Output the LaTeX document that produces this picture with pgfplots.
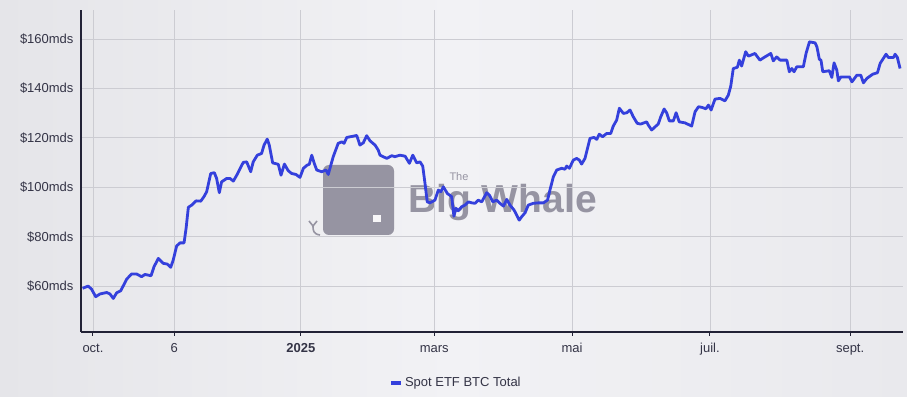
\documentclass[border=0pt]{standalone}
\usepackage{fontspec}
\setmainfont{Liberation Sans}
\usepackage{pgfplots}
\pgfplotsset{compat=1.18}
\definecolor{bgL}{RGB}{229,229,233}
\definecolor{bgM}{RGB}{242,242,245}
\definecolor{bgR}{RGB}{233,233,237}
\definecolor{gridc}{RGB}{204,204,210}
\definecolor{axisc}{RGB}{34,34,54}
\definecolor{labc}{RGB}{52,52,70}
\definecolor{linec}{RGB}{52,64,220}
\definecolor{wm}{RGB}{150,148,162}
\begin{document}
\begin{tikzpicture}
\shade[left color=bgL, right color=bgR, middle color=bgM] (0bp,0bp) rectangle (907bp,397bp);
% watermark
\fill[wm, rounded corners=6bp] (323bp,162bp) rectangle (394bp,232bp);
\fill[white!92!wm] (373bp,175bp) rectangle (381bp,182bp);
\draw[wm, line width=1.6bp] (320bp,162bp) .. controls (313bp,163bp) and (313bp,167bp) .. (313bp,171bp);
\draw[wm, line width=1.6bp] (313bp,171bp) -- (309bp,176bp) (313bp,171bp) -- (317bp,176bp);
\node[wm, anchor=base west, font=\bfseries\fontsize{39bp}{40bp}\selectfont, inner sep=0pt, text height=27bp, text depth=0bp] at (408bp,184bp) {Big Whale};
\node[wm, font=\fontsize{11bp}{12bp}\selectfont, inner sep=0pt, text height=8bp, text depth=0bp, anchor=south] at (459bp,216bp) {The};
\begin{axis}[
  at={(81bp,65bp)}, anchor=south west,
  scale only axis, width=822bp, height=322bp,
  xmin=-5.3, xmax=358.4, ymin=41.4, ymax=171.8,
  axis x line=bottom, axis y line=left,
  axis line style={axisc, line width=1.2bp, -},
  xtick={0,36,92,151,212,273,335},
  xticklabels={oct.,6,\textbf{2025},mars,mai,juil.,sept.},
  ytick={60,80,100,120,140,160},
  yticklabels={\$60mds,\$80mds,\$100mds,\$120mds,\$140mds,\$160mds},
  grid=major, major grid style={gridc, line width=0.9bp},
  tick align=outside, major tick length=4bp,
  x tick style={axisc, line width=1bp},
  y tick style={draw=none},
  tick label style={font=\fontsize{13bp}{15bp}\selectfont, text=labc},
  xticklabel style={text height=9.5bp, text depth=2.5bp, anchor=north, yshift=-3bp},
  legend style={at={(axis description cs:0.456,-0.158)}, anchor=center, draw=none, fill=none,
    font=\fontsize{13bp}{15bp}\selectfont, text=labc},
  legend image code/.code={\draw[line width=4bp, line cap=butt] (0bp,0bp) -- (10bp,0bp);},
]
\addplot[linec, line width=2.8bp, line join=round] coordinates {
(-4.6,59.1) (-2.1,60.0) (-0.6,58.7) (1.2,55.7) (3.1,56.8) (6.1,57.4) (7.5,56.8) (9.0,55.0)
(10.5,57.3) (12.3,58.1) (14.9,62.8) (17.1,64.9) (19.3,64.9) (21.5,63.8) (23.0,64.7) (25.7,64.2)
(27.0,67.8) (28.9,71.2) (31.1,69.2) (32.9,68.9) (34.4,67.6) (35.5,70.5) (37.0,76.2) (38.5,77.5)
(40.3,77.5) (41.2,83.4) (42.2,91.9) (43.7,92.8) (45.6,94.5) (47.7,94.4) (49.1,96.2) (50.3,98.2)
(52.1,105.6) (53.7,105.9) (54.7,103.6) (55.9,97.8) (56.9,102.2) (59.2,103.6) (60.6,103.6)
(62.1,102.5) (63.6,104.9) (66.5,110.1) (68.0,110.3) (69.8,106.3) (70.9,110.3) (72.7,113.0)
(74.6,113.7) (75.7,117.1) (77.1,119.5) (78.0,117.1) (79.5,109.9) (82.0,109.3) (83.2,104.9)
(84.7,109.4) (86.4,106.7) (87.9,105.6) (89.8,105.2) (91.6,104.0) (93.1,107.7) (94.8,109.0)
(95.7,109.3) (96.8,113.0) (97.9,109.7) (99.0,107.0) (101.2,106.3) (103.1,107.0) (104.1,105.2)
(106.3,112.4) (108.5,117.8) (110.1,118.4) (111.1,117.8) (112.3,120.2) (114.0,120.5) (115.2,120.7)
(116.7,121.0) (118.1,117.1) (119.6,118.0) (121.1,120.9) (122.6,118.8) (124.8,117.1) (126.2,115.1)
(127.0,113.0) (130.0,111.7) (132.2,112.8) (133.6,112.4) (135.8,113.0) (138.1,112.6) (140.0,109.7)
(141.5,113.0) (143.2,109.9) (144.7,110.3) (145.9,108.6) (146.9,101.6) (147.9,94.1) (149.1,93.7)
(151.3,94.8) (152.8,98.9) (153.9,98.2) (155.0,100.2) (156.8,97.5) (158.7,96.2) (159.7,88.3)
(160.6,91.5) (161.6,90.5) (163.1,92.1) (164.6,92.8) (166.1,94.1) (167.6,93.7) (169.0,93.5)
(170.5,94.8) (172.0,94.1) (174.2,97.8) (175.4,96.8) (176.9,94.1) (178.6,94.8) (180.1,93.5)
(181.6,92.4) (183.1,95.1) (184.5,92.8) (186.3,90.8) (187.5,88.7) (188.6,86.7) (189.7,88.1)
(191.2,89.7) (192.6,92.8) (194.8,93.5) (197.1,93.7) (199.3,93.7) (201.1,94.8) (202.2,98.9)
(203.7,104.3) (205.2,107.0) (207.4,107.7) (208.8,107.3) (209.6,108.6) (210.8,107.7) (212.5,111.0)
(214.0,111.7) (215.2,111.0) (216.2,109.4) (217.7,111.7) (219.9,119.8) (221.7,120.2) (222.9,119.4)
(224.0,121.5) (225.5,120.5) (227.3,121.8) (229.1,121.8) (230.2,124.8) (231.7,127.2) (232.9,132.0)
(234.7,129.9) (236.2,130.2) (237.6,131.3) (239.1,128.5) (240.8,125.9) (242.3,125.6) (243.8,126.1)
(245.0,126.5) (245.7,125.2) (247.2,123.2) (249.1,124.8) (250.1,125.6) (251.2,128.5) (252.7,131.7)
(253.8,130.2) (255.0,126.9) (256.8,126.9) (258.0,130.2) (259.4,126.5) (261.9,126.1) (264.9,124.8)
(266.4,130.6) (267.9,132.6) (269.3,132.4) (271.2,131.8) (272.3,133.3) (273.5,131.3) (275.2,135.7)
(277.4,136.0) (279.6,135.0) (281.1,137.3) (282.2,141.0) (283.3,148.1) (285.1,148.6) (286.0,151.5)
(287.0,149.1) (288.8,154.9) (290.0,153.1) (292.9,154.2) (295.1,151.5) (297.3,152.8) (299.9,154.2)
(301.0,151.2) (302.5,152.8) (304.0,151.5) (307.0,151.5) (308.1,146.8) (309.2,148.1) (310.2,146.8)
(311.4,148.8) (314.3,148.8) (315.5,154.2) (317.0,158.9) (319.5,158.5) (320.3,156.9) (321.4,151.8)
(322.1,151.5) (322.9,146.8) (325.8,147.2) (326.9,144.5) (327.9,150.4) (329.1,147.5) (329.8,143.1)
(330.9,144.7) (334.7,144.7) (335.8,142.7) (338.0,145.4) (339.7,145.4) (340.9,142.3) (342.4,144.1)
(345.0,145.8) (347.1,146.4) (348.3,150.2) (350.9,153.9) (351.9,152.6) (354.2,152.6) (354.9,153.9)
(355.9,152.6) (357.1,148.1)
};
\addlegendentry{Spot ETF BTC Total}
\end{axis}
\end{tikzpicture}
\end{document}
